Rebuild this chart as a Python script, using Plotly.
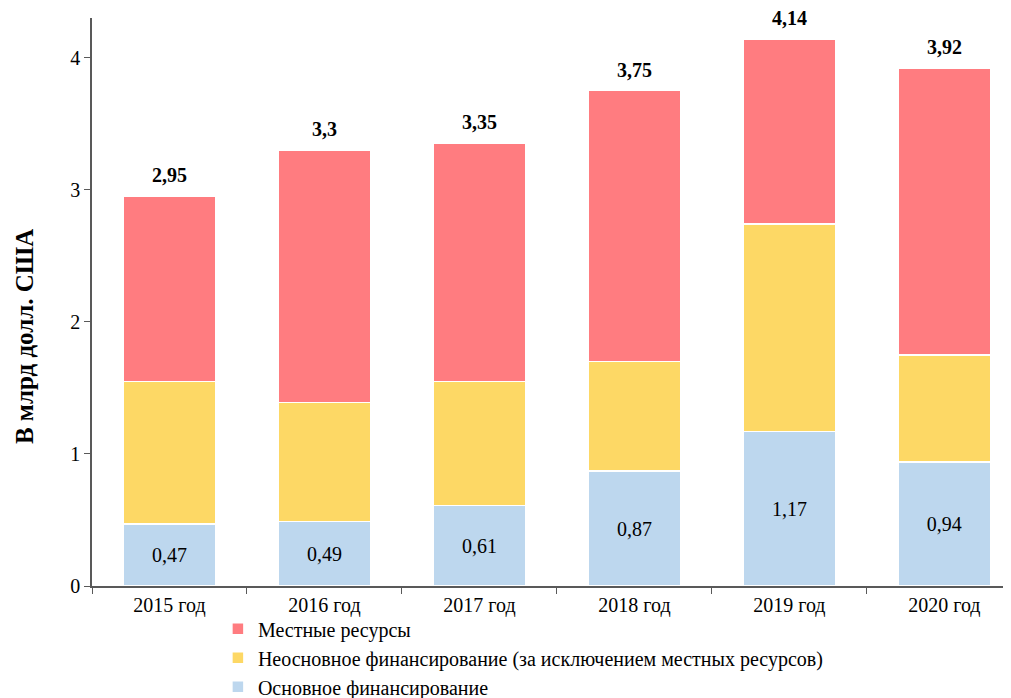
import plotly.graph_objects as go

years = ["2015 год", "2016 год", "2017 год", "2018 год", "2019 год", "2020 год"]
core = [0.47, 0.49, 0.61, 0.87, 1.17, 0.94]
noncore = [1.08, 0.90, 0.94, 0.83, 1.57, 0.81]
local = [1.40, 1.91, 1.80, 2.05, 1.40, 2.17]
totals = [2.95, 3.3, 3.35, 3.75, 4.14, 3.92]

names = ["Основное финансирование",
         "Неосновное финансирование (за исключением местных ресурсов)",
         "Местные ресурсы"]
colors = ["#BDD7EE", "#FDD865", "#FF7C80"]

FONT = "Liberation Serif"

def fmt(v):
    return f"{v:g}".replace(".", ",")

fig = go.Figure()
fig.add_trace(go.Bar(x=years, y=core, name=names[0], marker_color=colors[0],
                     marker_line=dict(color="white", width=1.5),
                     text=[fmt(v) for v in core], textposition="inside",
                     insidetextanchor="middle",
                     textfont=dict(family=FONT, size=20, color="black"),
                     width=0.6))
fig.add_trace(go.Bar(x=years, y=noncore, name=names[1], marker_color=colors[1],
                     marker_line=dict(color="white", width=1.5), width=0.6))
fig.add_trace(go.Bar(x=years, y=local, name=names[2], marker_color=colors[2],
                     marker_line=dict(color="white", width=1.5), width=0.6))

for x, t in zip(years, totals):
    fig.add_annotation(x=x, y=t, text=f"<b>{fmt(t)}</b>", showarrow=False,
                       yanchor="bottom", yshift=8,
                       font=dict(family=FONT, size=20, color="black"))

fig.add_annotation(xref="paper", yref="paper", x=-0.074, y=0.44,
                   text="<b>В млрд долл. США</b>", textangle=-90, showarrow=False,
                   xanchor="center", yanchor="middle",
                   font=dict(family=FONT, size=25, color="black"))

fig.update_layout(
    width=1003, height=690,
    barmode="stack",
    margin=dict(l=84, r=0, t=10, b=112, autoexpand=False),
    plot_bgcolor="white", paper_bgcolor="white",
    font=dict(family=FONT, size=20, color="black"),
    showlegend=True,
    legend=dict(x=0.137, y=-0.041, xanchor="left", yanchor="top",
                font=dict(family=FONT, size=20, color="black"),
                traceorder="reversed", bgcolor="rgba(0,0,0,0)",
                tracegroupgap=0, itemwidth=30),
    xaxis=dict(range=[-0.5, 5.43], showline=True, linecolor="#595959", linewidth=1.5,
               ticks="outside", tickson="boundaries", ticklen=6, tickcolor="#595959",
               showgrid=False, tickfont=dict(family=FONT, size=20, color="black")),
    yaxis=dict(range=[0, 4.3], showline=True, linecolor="#595959", linewidth=1.5,
               ticks="outside", ticklen=6, tickcolor="#595959", tickvals=[0, 1, 2, 3, 4],
               showgrid=False, zeroline=False,
               tickfont=dict(family=FONT, size=20, color="black")),
)

fig.write_html("out.html")
